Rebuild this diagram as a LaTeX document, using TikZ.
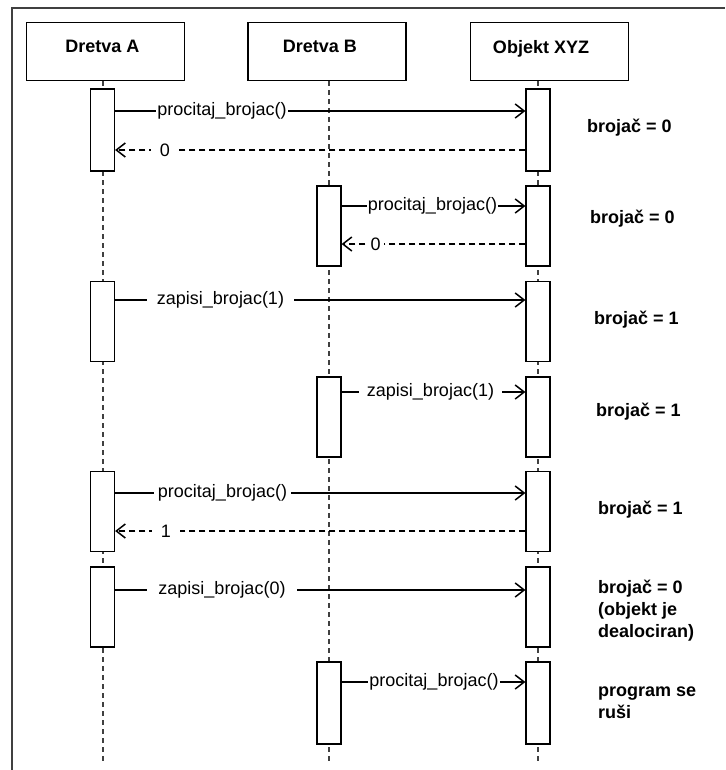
\documentclass[tikz,border=0pt]{standalone}
\usepackage{fontspec}
\setmainfont{Liberation Sans}
\usetikzlibrary{arrows.meta}
\begin{document}
\begin{tikzpicture}[x=1pt,y=-1pt,
  head/.style={draw, line width=1.2pt, minimum width=158pt, minimum height=58pt,
    inner sep=0pt, text depth=10pt, font=\bfseries\fontsize{18}{21}\selectfont},
  bar/.style={draw, fill=white, line width=1.2pt, minimum width=24pt,
    minimum height=80pt, inner sep=0pt},
  lifeline/.style={draw=black!75, line width=1.2pt, dash pattern=on 5pt off 4pt},
  msg/.style={line width=1.2pt, -{Straight Barb[length=9pt,width=14pt,line width=1.5pt]}},
  ret/.style={msg, dash pattern=on 6pt off 4pt},
  lbl/.style={fill=white, inner ysep=1pt, inner xsep=#1, font=\fontsize{18}{21}\selectfont},
  note/.style={inner sep=0pt, anchor=base west, align=left,
    font=\bfseries\fontsize{18}{22}\selectfont}]
\useasboundingbox (0,0) rectangle (725,770);
\fill[white] (0,0) rectangle (725,770);
% frame
\draw[black!75, line width=1.4pt] (12,770) -- (12,8) -- (725,8);

% heads
\node[head] (hA) at (105.5,51.5) {\hspace*{-6pt}Dretva A};
\node[head] (hB) at (327,51.5) {\hspace*{-14pt}Dretva B};
\node[head] (hO) at (549.5,51.5) {\hspace*{-17pt}Objekt XYZ};

% lifeline ends
\coordinate (eA) at (103,761);
\coordinate (eB) at (329,761);
\coordinate (eO) at (538,761);
\draw[lifeline] (hA.south -| eA) -- (eA);
\draw[lifeline] (hB.south -| eB) -- (eB);
\draw[lifeline] (hO.south -| eO) -- (eO);

% activation bars
\node[bar, minimum height=82pt] (A1) at (102.5,130) {};
\node[bar, minimum height=82pt] (O1) at (538,130) {};
\node[bar] (B2) at (329,226) {};
\node[bar] (O2) at (538,226) {};
\node[bar] (A3) at (102.5,321.5) {};
\node[bar] (O3) at (538,321.5) {};
\node[bar] (B4) at (329,417) {};
\node[bar] (O4) at (538,417) {};
\node[bar] (A5) at (102.5,511.5) {};
\node[bar] (O5) at (538,511.5) {};
\node[bar] (A6) at (102.5,607) {};
\node[bar] (O6) at (538,607) {};
\node[bar, minimum height=82pt] (B7) at (329,703) {};
\node[bar, minimum height=82pt] (O7) at (538,703) {};

% messages
\draw[msg] (A1.east |- 0,111) -- (O1.west |- 0,111);
\node[lbl=1pt] (m1) at (222,111) {procitaj\_brojac()};
\draw[ret] (O1.west |- 0,150) -- (A1.east |- 0,150);
\node[lbl=9pt] (m2) at (165,150) {0};

\draw[msg] (B2.east |- 0,206) -- (O2.west |- 0,206);
\node[lbl=1pt] (m3) at (432.5,206) {procitaj\_brojac()};
\draw[ret] (O2.west |- 0,244) -- (B2.east |- 0,244);
\node[lbl=3pt] (m4) at (375.5,244) {0};

\draw[msg] (A3.east |- 0,300) -- (O3.west |- 0,300);
\node[lbl=10pt] (m5) at (220.5,300) {zapisi\_brojac(1)};

\draw[msg] (B4.east |- 0,392) -- (O4.west |- 0,392);
\node[lbl=8pt] (m6) at (430.5,392) {zapisi\_brojac(1)};

\draw[msg] (A5.east |- 0,493) -- (O5.west |- 0,493);
\node[lbl=4pt] (m7) at (222.5,493) {procitaj\_brojac()};
\draw[ret] (O5.west |- 0,531) -- (A5.east |- 0,531);
\node[lbl=9pt] (m8) at (166,531) {1};

\draw[msg] (A6.east |- 0,590) -- (O6.west |- 0,590);
\node[lbl=11pt] (m9) at (222,590) {zapisi\_brojac(0)};

\draw[msg] (B7.east |- 0,682) -- (O7.west |- 0,682);
\node[lbl=1pt] (m10) at (434,682) {procitaj\_brojac()};

% notes
\node[note] (n1) at (587,133) {brojač = 0};
\node[note] (n2) at (590,223) {brojač = 0};
\node[note] (n3) at (594,324) {brojač = 1};
\node[note] (n4) at (596,416) {brojač = 1};
\node[note] (n5) at (598,514) {brojač = 1};
\node[note] (n6) at (598,637) {brojač = 0\\(objekt je\\dealociran)};
\node[note] (n7) at (598,718) {program se\\ruši};
\end{tikzpicture}
\end{document}
